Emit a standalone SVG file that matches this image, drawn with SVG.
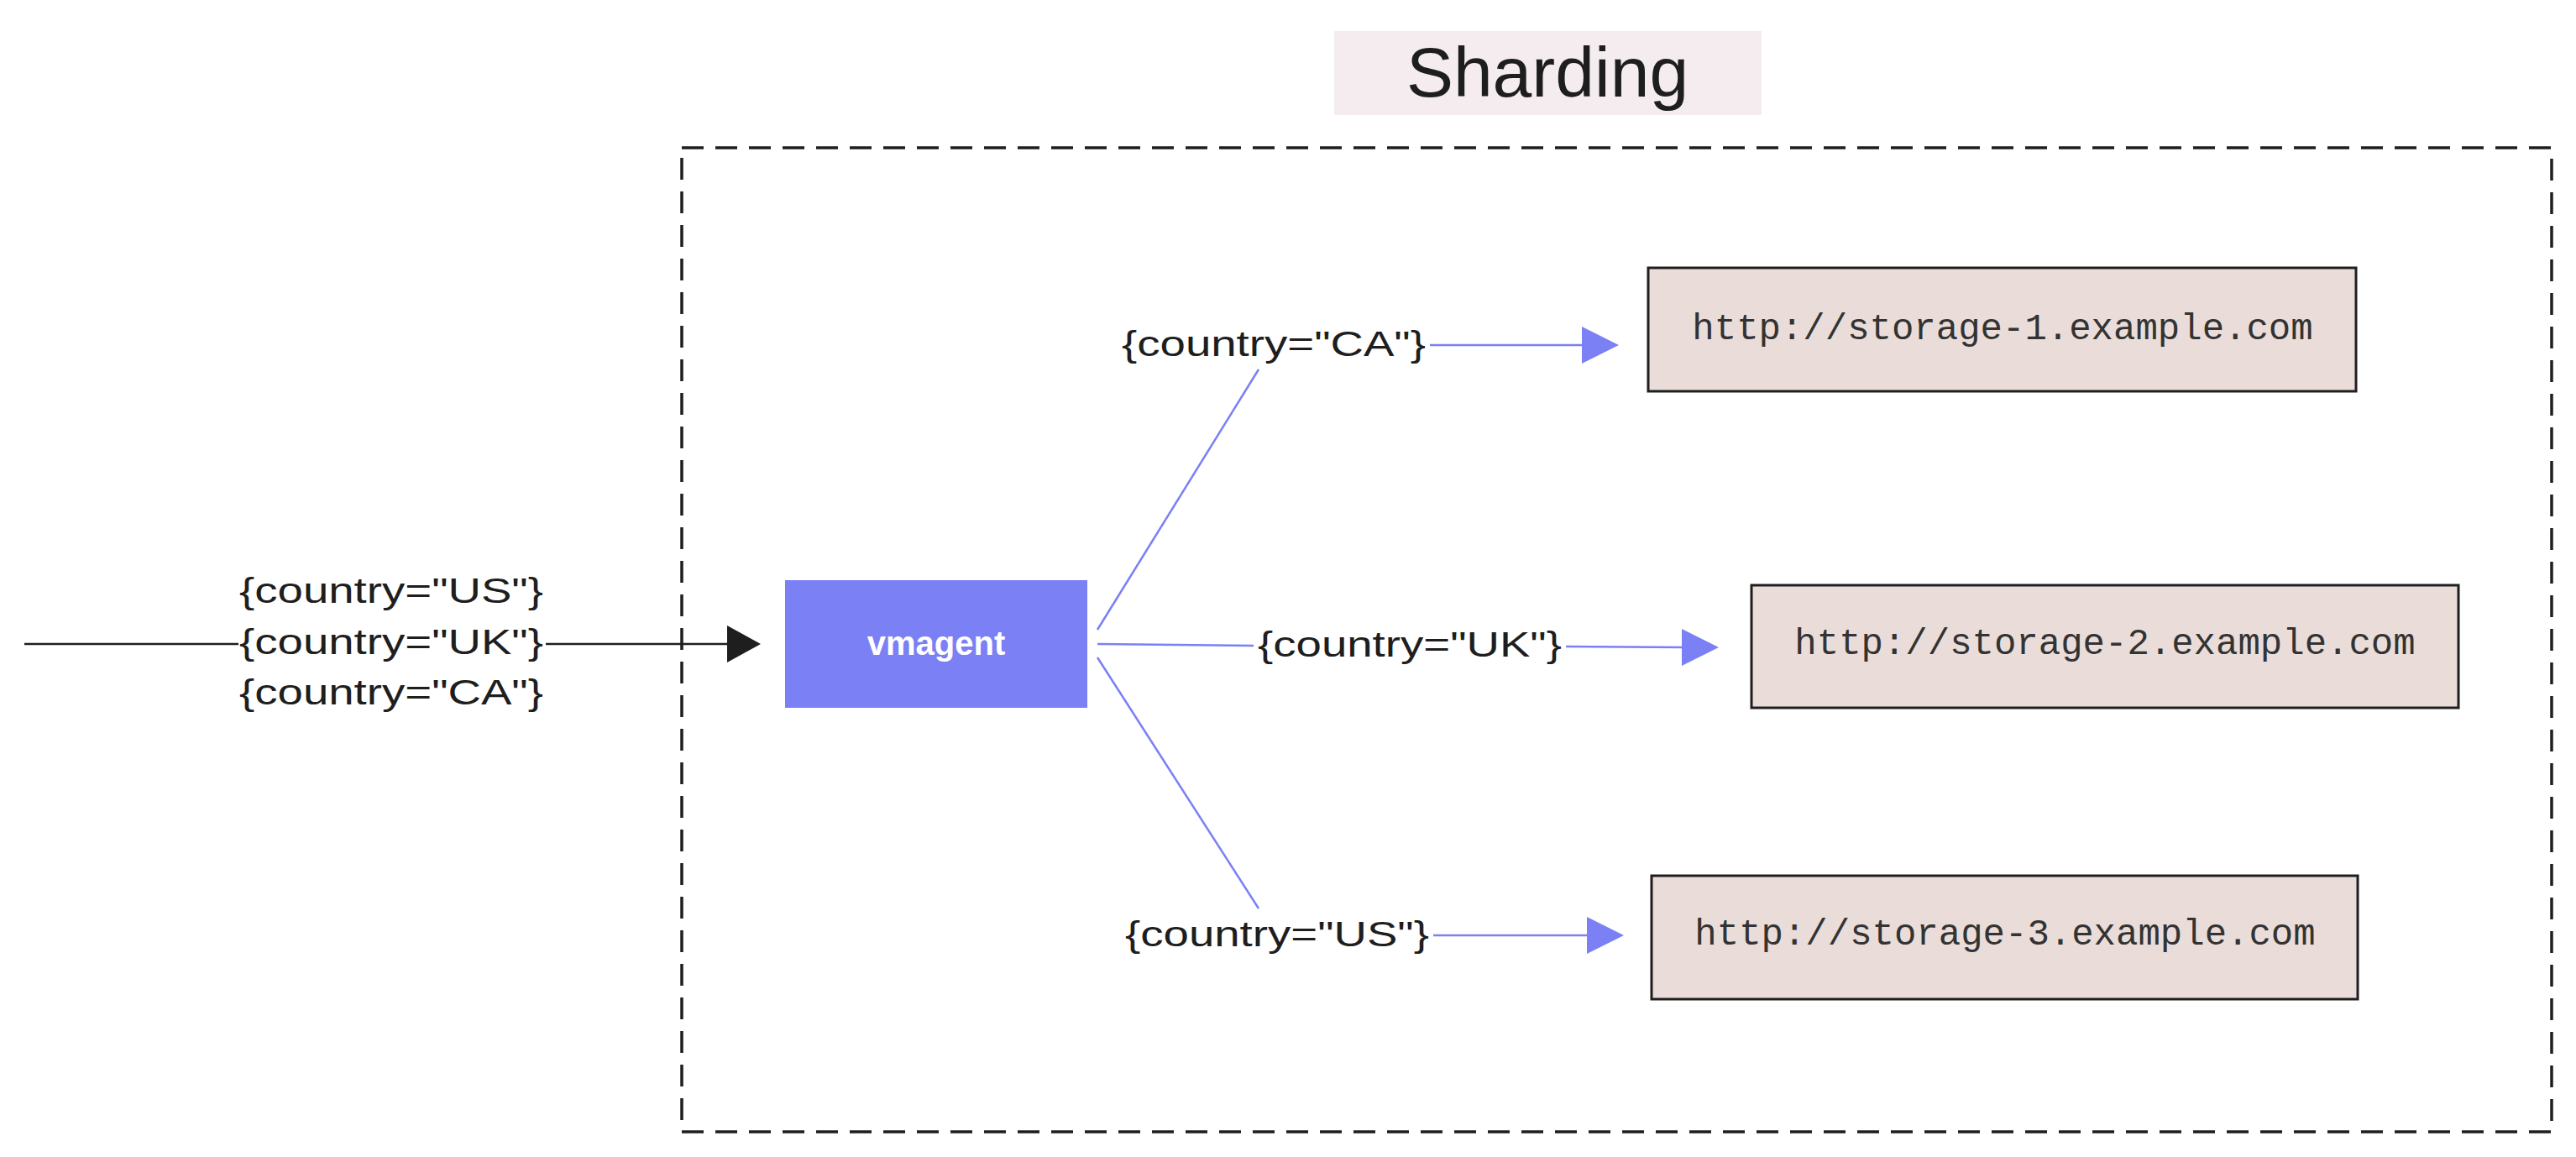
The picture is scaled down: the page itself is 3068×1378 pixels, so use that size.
<svg xmlns="http://www.w3.org/2000/svg" width="3068" height="1378" viewBox="0 0 3068 1378">
<defs>
<style>
.lbl{font-family:"Liberation Sans",sans-serif;font-size:42px;fill:#1e1e1e;text-anchor:middle;dominant-baseline:central}
.url{font-family:"Liberation Mono",monospace;font-size:44px;fill:#333;text-anchor:middle;dominant-baseline:central}
.store{fill:#eaddd9;stroke:#1e1e1e;stroke-width:3}
.blue{stroke:#7b80f5;stroke-width:2.5;fill:none}
</style>
</defs>
<rect width="3068" height="1378" fill="#fff"/>
<g id="title"><rect x="1589" y="37" width="509" height="100" fill="#f4ecee"/><text x="1843" y="86" style="font-family:'Liberation Sans',sans-serif;font-size:84px;fill:#1e1e1e;text-anchor:middle;dominant-baseline:central">Sharding</text></g>
<g id="frame"><rect x="812" y="176" width="2227" height="1172" fill="none" stroke="#1e1e1e" stroke-width="3.5" stroke-dasharray="26 14"/></g>
<g id="connectors">
<line x1="29" y1="767" x2="866" y2="767" stroke="#1e1e1e" stroke-width="2.5"/>
<path d="M866,745L906,767L866,789z" fill="#1e1e1e"/>
<line class="blue" x1="1307" y1="750" x2="1499" y2="440"/>
<line class="blue" x1="1307" y1="767" x2="1493" y2="769"/>
<line class="blue" x1="1307" y1="783" x2="1499" y2="1082"/>
<line class="blue" x1="1703" y1="411" x2="1890" y2="411" stroke-width="3.5"/><path d="M1884,389L1928,411L1884,433z" fill="#7b80f5"/>
<line class="blue" x1="1865" y1="770" x2="2005" y2="771" stroke-width="3.5"/><path d="M2003,749L2047,771L2003,793z" fill="#7b80f5"/>
<line class="blue" x1="1707" y1="1114" x2="1893" y2="1114" stroke-width="3.5"/><path d="M1890,1092L1934,1114L1890,1136z" fill="#7b80f5"/>
</g>
<g id="input-labels">
<rect x="284" y="745" width="366" height="40" fill="#fff"/>
<text class="lbl" x="466" y="703" textLength="362" lengthAdjust="spacingAndGlyphs">{country="US"}</text>
<text class="lbl" x="466" y="764" textLength="362" lengthAdjust="spacingAndGlyphs">{country="UK"}</text>
<text class="lbl" x="466" y="824" textLength="362" lengthAdjust="spacingAndGlyphs">{country="CA"}</text>
</g>
<g id="edge-labels">
<text class="lbl" x="1517" y="409" textLength="362" lengthAdjust="spacingAndGlyphs">{country="CA"}</text>
<rect x="1493" y="747" width="372" height="40" fill="#fff"/>
<text class="lbl" x="1679" y="767" textLength="362" lengthAdjust="spacingAndGlyphs">{country="UK"}</text>
<text class="lbl" x="1521" y="1112" textLength="362" lengthAdjust="spacingAndGlyphs">{country="US"}</text>
</g>
<g id="vmagent"><rect x="935" y="691" width="360" height="152" fill="#7b80f5"/><text x="1115" y="766" style="font-family:'Liberation Sans',sans-serif;font-size:40px;font-weight:bold;fill:#fff;text-anchor:middle;dominant-baseline:central">vmagent</text></g>
<g id="storage-1"><rect class="store" x="1963" y="319" width="843" height="147"/><text class="url" x="2385" y="392">http://storage-1.example.com</text></g>
<g id="storage-2"><rect class="store" x="2086" y="697" width="842" height="146"/><text class="url" x="2507" y="767">http://storage-2.example.com</text></g>
<g id="storage-3"><rect class="store" x="1967" y="1043" width="841" height="147"/><text class="url" x="2388" y="1113">http://storage-3.example.com</text></g>
</svg>
